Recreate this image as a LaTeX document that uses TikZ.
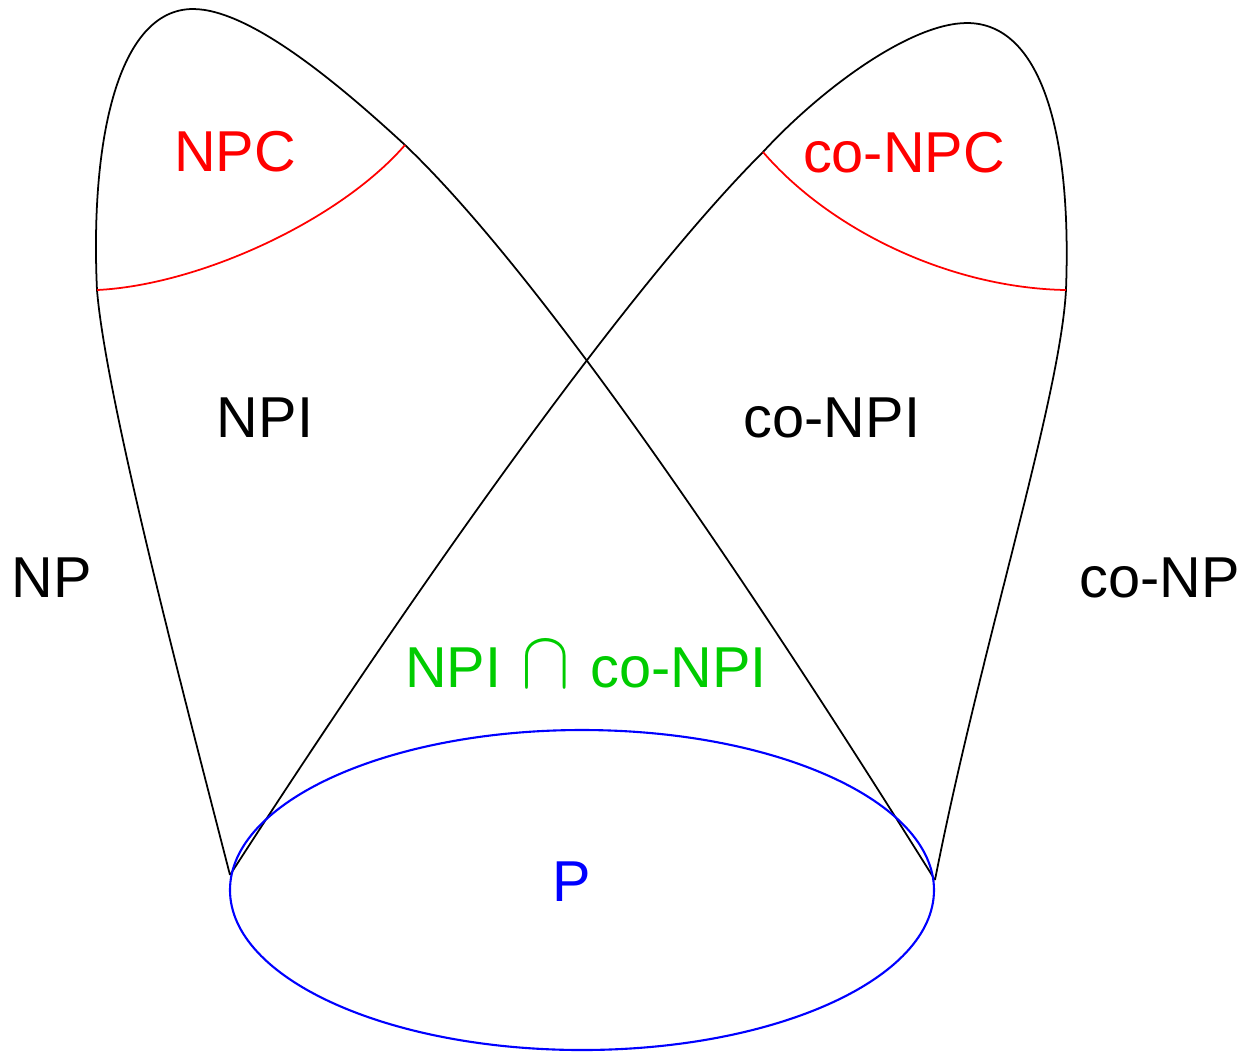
\documentclass[tikz,border=0pt]{standalone}
\usepackage{fontspec}
\usepackage{graphicx}
\setmainfont{Liberation Sans}
\usetikzlibrary{positioning,calc}
\definecolor{npred}{RGB}{255,0,0}
\definecolor{pblue}{RGB}{0,0,255}
\definecolor{cgreen}{RGB}{0,204,0}
\definecolor{edge}{RGB}{0,0,0}

\begin{document}
\begin{tikzpicture}[x=0.01cm,y=-0.01cm,
    classlabel/.style={font=\fontsize{16.4}{19}\selectfont, inner sep=0pt},
    border/.style={draw=edge, line width=0.5pt},
    cut/.style={draw=npred, line width=0.5pt}]
  \useasboundingbox (0,0) rectangle (1247,1053);
  % corner points of the two cones
  \coordinate (lcusp) at (230,875);
  \coordinate (rcusp) at (935,880);
  \coordinate (lside) at (97,290);
  \coordinate (rside) at (1066,290);
  \coordinate (ltop) at (193,9);
  \coordinate (rtop) at (967,23);
  \coordinate (lcut) at (405,145);
  \coordinate (rcut) at (763,152);
  % NP
  \path[border] (lcusp) .. controls (185,700) and (106,400) .. (lside)
    .. controls (90,140) and (118,9) .. (ltop)
    .. controls (250,9) and (340,85) .. (lcut)
    .. controls (555,288) and (785,640) .. (rcusp);
  % co-NP
  \path[border] (rcusp) .. controls (980,650) and (1060,400) .. (rside)
    .. controls (1072,130) and (1040,23) .. (rtop)
    .. controls (910,23) and (820,90) .. (rcut)
    .. controls (613,302) and (380,642) .. (lcusp);
  % complete parts
  \path[cut] (lside) .. controls (200,285) and (340,220) .. (lcut);
  \path[cut] (rcut) .. controls (830,230) and (950,288) .. (rside);
  % P
  \draw[pblue, line width=0.6pt] (582,890) ellipse [x radius=352, y radius=160];
  \node[classlabel, text=npred] (npc) at (235,152) {NPC};
  \node[classlabel, text=npred] (conpc) at (904,153) {co-NPC};
  \node[classlabel] (npi) at (265,418) {NPI};
  \node[classlabel] (conpi) at (832,418) {co-NPI};
  \node[classlabel] (np) at (52,578) {NP};
  \node[classlabel] (conp) at (1160,578) {co-NP};
  \node[classlabel, text=cgreen] (both) at (586,665)
    {NPI\hspace{0.35em}\scalebox{1.2}[1.35]{$\cap$}\hspace{0.35em}co-NPI};
  \node[classlabel, text=pblue] (p) at (572,882) {P};
\end{tikzpicture}
\end{document}
